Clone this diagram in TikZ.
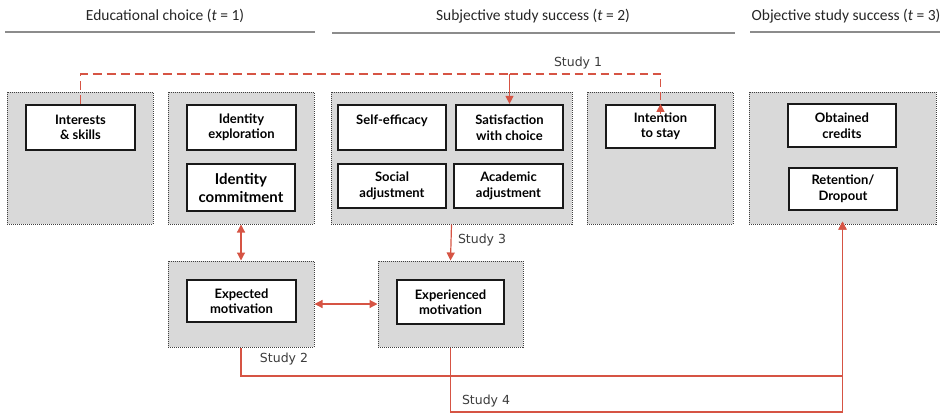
\documentclass[tikz,border=0pt]{standalone}
\usepackage{fontspec}
\setmainfont{Lato}
\newfontfamily\headfont{Carlito}
\newfontfamily\studyfont{DejaVu Sans}
\usetikzlibrary{arrows.meta}
\definecolor{linkred}{RGB}{214,84,68}
\definecolor{panelgrey}{RGB}{217,217,217}
\definecolor{rulegrey}{RGB}{140,140,140}
\definecolor{labelgrey}{RGB}{60,60,60}

\begin{document}
\begin{tikzpicture}[x=1pt,y=-1pt,
  panel/.style={draw=black!75, fill=panelgrey, densely dotted, line width=1pt,
    inner sep=0pt},
  concept/.style={draw=black!90, fill=white, line width=2.2pt, align=center,
    inner sep=2pt, font=\bfseries\fontsize{13}{15.5}\selectfont},
  header/.style={font=\headfont\fontsize{15.5}{18}\selectfont, text=black!85},
  headrule/.style={draw=rulegrey, line width=1.8pt},
  study/.style={font=\studyfont\fontsize{12.5}{15}\selectfont, text=labelgrey},
  link/.style={draw=linkred, line width=1.2pt},
  tip/.style={-{Triangle[length=8pt,width=8pt]}},
  bothtips/.style={{Triangle[length=8pt,width=8pt]}-{Triangle[length=8pt,width=8pt]}},
]
\useasboundingbox (0,0) rectangle (949,415);

% phase headings
\node[header] (h1) at (165,16) {Educational choice (\textit{t} = 1)};
\node[header] (h2) at (533,16) {Subjective study success (\textit{t} = 2)};
\node[header] (h3) at (846,16) {Objective study success (\textit{t} = 3)};
\draw[headrule] (5,32) -- (315,32);
\draw[headrule] (332,33) -- (735,33);
\draw[headrule] (750,32) -- (940,32);

% grey panels
\node[panel, minimum width=146pt, minimum height=132pt] (g1) at (80,158) {};
\node[panel, minimum width=146pt, minimum height=132pt] (g2) at (241,158) {};
\node[panel, minimum width=241pt, minimum height=132pt] (g3) at (451.5,158) {};
\node[panel, minimum width=146pt, minimum height=132pt] (g4) at (660,158) {};
\node[panel, minimum width=187pt, minimum height=132pt] (g5) at (842.5,158) {};
\node[panel, minimum width=146pt, minimum height=86pt] (g6) at (241,304) {};
\node[panel, minimum width=145pt, minimum height=86pt] (g7) at (450.5,304) {};

% concepts
\node[concept, minimum width=109pt, minimum height=45pt] (int) at (80.5,127.5) {Interests\\ \& skills};
\node[concept, minimum width=109pt, minimum height=45pt] (idexp) at (241.5,127.5) {Identity\\ exploration};
\node[concept, minimum width=108pt, minimum height=47pt,
      font=\bfseries\fontsize{15}{18}\selectfont] (idcom) at (241,187.5) {Identity\\ commitment};
\node[concept, minimum width=108pt, minimum height=45pt] (self) at (392,127.5) {Self-efficacy\\ \mbox{}};
\node[concept, minimum width=107pt, minimum height=45pt] (sat) at (509.5,127.5) {Satisfaction\\ with choice};
\node[concept, minimum width=108pt, minimum height=44pt] (soc) at (392,186) {Social\\ adjustment};
\node[concept, minimum width=109pt, minimum height=44pt] (acad) at (508.5,186) {Academic\\ adjustment};
\node[concept, minimum width=109pt, minimum height=43pt] (intent) at (660.5,126.5) {Intention\\ to stay};
\node[concept, minimum width=108pt, minimum height=43pt] (cred) at (842,125.5) {Obtained\\ credits};
\node[concept, minimum width=108pt, minimum height=42pt] (ret) at (843,189) {Retention/\\ Dropout};
\node[concept, minimum width=109pt, minimum height=42pt] (expm) at (241.5,301) {Expected\\ motivation};
\node[concept, minimum width=107pt, minimum height=44pt] (expr) at (450.5,302) {Experienced\\ motivation};

% Study 1
\coordinate (top) at (0,74);
\draw[link, line width=1.6pt, dash pattern=on 9pt off 5pt]
  (int.north) -- (int.north |- top) -- (sat.north |- top);
\draw[link, tip] (sat.north |- top) -- (sat.north);
\draw[link, line width=1.1pt, dash pattern=on 8pt off 5pt]
  (sat.north |- top) -- (intent.north |- top) -- ([yshift=-9pt]intent.north);
\draw[link, tip] ([yshift=-10pt]intent.north) -- (intent.north);
\node[study] (s1) at (578,63) {Study 1};

% motivation links
\draw[link, bothtips] (g2.south) -- (g6.north);
\draw[link, bothtips] (g6.east) -- (g7.west);
\draw[link, tip] (g3.south) -- (g7.north);
\node[study] (s3) at (482,240) {Study 3};

% Study 2 and Study 4 to objective success
\coordinate (bendA) at (0,376);
\coordinate (bendB) at (0,412);
\draw[link, tip] (g6.south) -- (g6.south |- bendA) -- (g5.south |- bendA) -- ([yshift=3pt]g5.south);
\draw[link, tip] (g7.south) -- (g7.south |- bendB) -- (g5.south |- bendB) -- ([yshift=3pt]g5.south);
\node[study] (s2) at (284,359) {Study 2};
\node[study] (s4) at (486,401) {Study 4};
\end{tikzpicture}
\end{document}
